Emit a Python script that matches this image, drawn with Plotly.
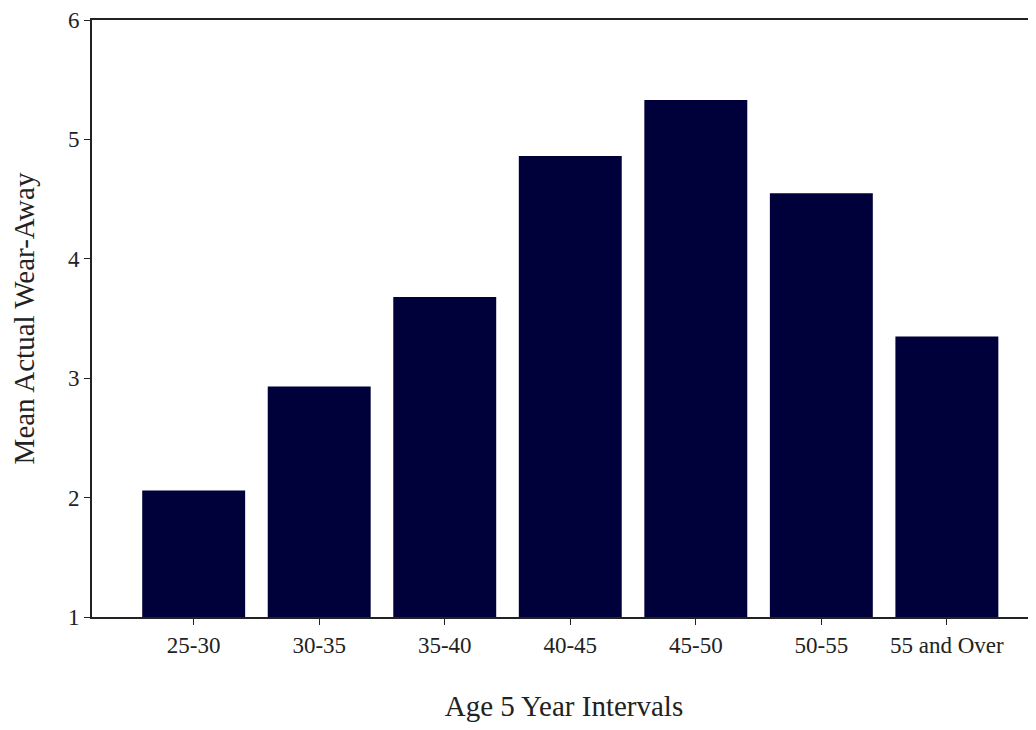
import plotly.graph_objects as go

categories = ["25-30", "30-35", "35-40", "40-45", "45-50", "50-55", "55 and Over"]
mean_wear_away = [2.06, 2.93, 3.68, 4.86, 5.33, 4.55, 3.35]
y_ticks = [1, 2, 3, 4, 5, 6]

fig = go.Figure()
fig.add_trace(go.Bar(
    x=categories,
    y=[v - 1 for v in mean_wear_away],
    base=1,
    marker=dict(color="#00003a", line=dict(width=0)),
    width=0.82,
    hoverinfo="skip",
))

font = "Liberation Serif, Times New Roman, serif"
fig.update_layout(
    width=1028, height=714,
    margin=dict(l=84, r=0, t=10, b=103),
    paper_bgcolor="white", plot_bgcolor="white",
    showlegend=False,
    font=dict(family=font, color="#222222"),
)
fig.update_xaxes(
    range=[-0.81, 6.71],
    showline=True, linecolor="#222222", linewidth=2, mirror=True,
    ticks="outside", ticklen=6, tickcolor="#222222", tickwidth=1,
    showgrid=False, zeroline=False,
    tickfont=dict(size=23, family=font),
    title=dict(text="Age 5 Year Intervals", font=dict(size=29, family=font), standoff=44),
)
fig.update_yaxes(
    range=[1, 6],
    tickvals=y_ticks,
    showline=True, linecolor="#222222", linewidth=2,
    ticks="outside", ticklen=6, tickcolor="#222222", tickwidth=1,
    showgrid=False, zeroline=False, ticklabeloverflow="allow",
    tickfont=dict(size=23, family=font),
    title=dict(text="Mean Actual Wear-Away", font=dict(size=29, family=font), standoff=31),
)

fig.write_html("out.html")
